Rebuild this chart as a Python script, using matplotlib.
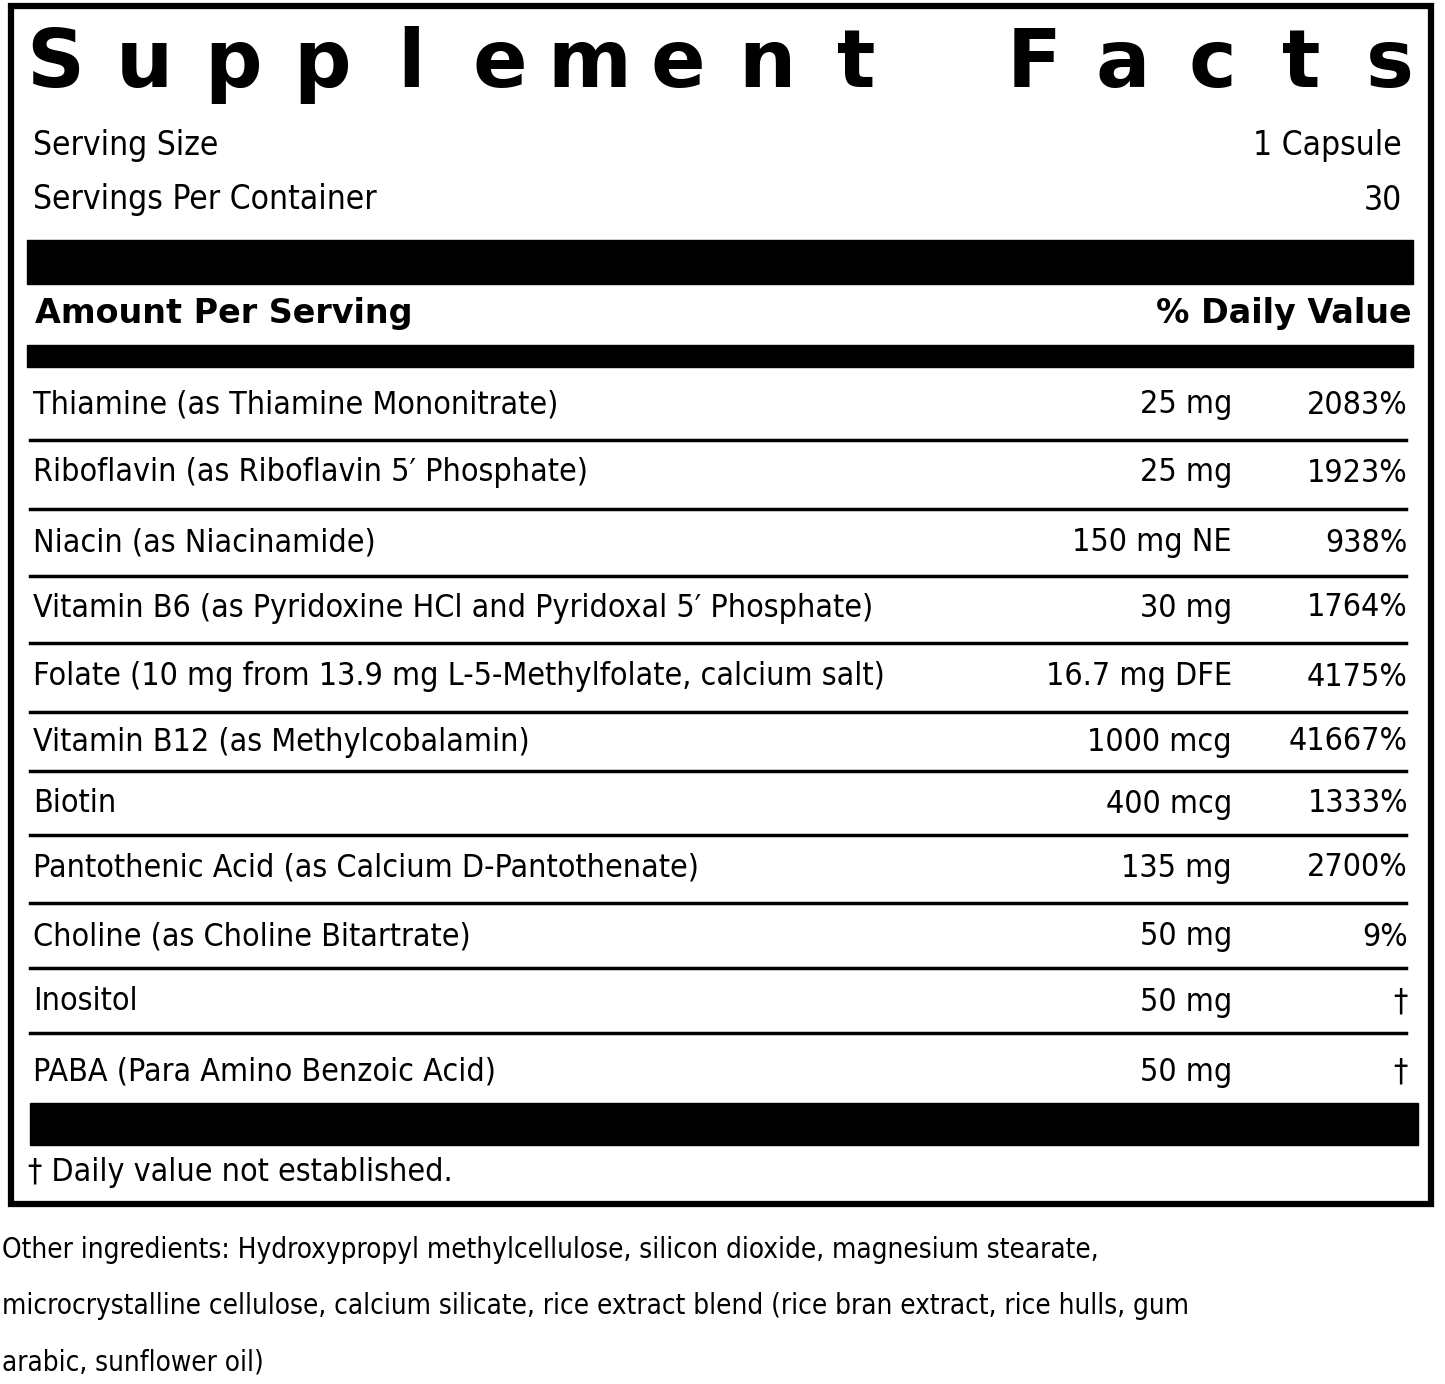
import matplotlib
matplotlib.use("Agg")
import matplotlib.pyplot as plt
from matplotlib.patches import Rectangle

title = "Supplement Facts"
serving = [("Serving Size", "1 Capsule"), ("Servings Per Container", "30")]
nutrients = ["Thiamine (as Thiamine Mononitrate)", "Riboflavin (as Riboflavin 5\u2032 Phosphate)",
             "Niacin (as Niacinamide)", "Vitamin B6 (as Pyridoxine HCl and Pyridoxal 5\u2032 Phosphate)",
             "Folate (10 mg from 13.9 mg L-5-Methylfolate, calcium salt)", "Vitamin B12 (as Methylcobalamin)",
             "Biotin", "Pantothenic Acid (as Calcium D-Pantothenate)", "Choline (as Choline Bitartrate)",
             "Inositol", "PABA (Para Amino Benzoic Acid)"]
amounts = ["25 mg", "25 mg", "150 mg NE", "30 mg", "16.7 mg DFE", "1000 mcg", "400 mcg", "135 mg",
           "50 mg", "50 mg", "50 mg"]
dv = ["2083%", "1923%", "938%", "1764%", "4175%", "41667%", "1333%", "2700%", "9%", "\u2020", "\u2020"]
footnote = "\u2020 Daily value not established."
other = ["Other ingredients: Hydroxypropyl methylcellulose, silicon dioxide, magnesium stearate,",
         "microcrystalline cellulose, calcium silicate, rice extract blend (rice bran extract, rice hulls, gum",
         "arabic, sunflower oil)"]

FN = "DejaVu Sans"
ST = "condensed"
fig = plt.figure(figsize=(14.45, 13.84), dpi=100)
ax = fig.add_axes([0, 0, 1, 1])
ax.set_xlim(0, 1445); ax.set_ylim(1384, 0); ax.axis("off")

ax.add_patch(Rectangle((11, 6), 1420, 1198, fill=False, lw=4.5, ec="black"))
chars = list(title)
n = len(chars)
for i, c in enumerate(chars):
    x = 55 + i * (1390 - 55) / (n - 1)
    ax.text(x, 65, c, fontsize=58, fontweight="bold", family="DejaVu Sans", ha="center", va="center")
fs = 23
for (l, r), y in zip(serving, [145, 200]):
    ax.text(33, y, l, fontsize=fs + 1, family=FN, stretch=ST, va="center")
    ax.text(1402, y, r, fontsize=fs + 1, family=FN, stretch=ST, va="center", ha="right")
ax.add_patch(Rectangle((27, 240), 1386, 44, color="black"))
ax.text(35, 314, "Amount Per Serving", fontsize=24, fontweight="bold", family="DejaVu Sans", va="center")
ax.text(1412, 314, "% Daily Value", fontsize=24, fontweight="bold", family="DejaVu Sans", va="center", ha="right")
ax.add_patch(Rectangle((27, 345), 1386, 22, color="black"))
ys = [405, 473, 543, 608, 677, 742, 804, 868, 937, 1002, 1072]
seps = [440, 509, 576, 643, 712, 771, 835, 903, 968, 1033]
for name, a, d, y in zip(nutrients, amounts, dv, ys):
    ax.text(33, y, name, fontsize=fs, family=FN, stretch=ST, va="center")
    ax.text(1232, y, a, fontsize=fs, family=FN, stretch=ST, va="center", ha="right")
    ax.text(1408, y, d, fontsize=fs, family=FN, stretch=ST, va="center", ha="right")
for y in seps:
    ax.plot([30, 1406], [y, y], color="black", lw=2.5)
ax.add_patch(Rectangle((30, 1103), 1388, 42, color="black"))
ax.text(28, 1172, footnote, fontsize=fs, family=FN, stretch=ST, va="center")
for i, t in enumerate(other):
    ax.text(2, 1250 + i * 56, t, fontsize=20, family=FN, stretch=ST, va="center")
fig.savefig("out.png", dpi=100, facecolor="white")
